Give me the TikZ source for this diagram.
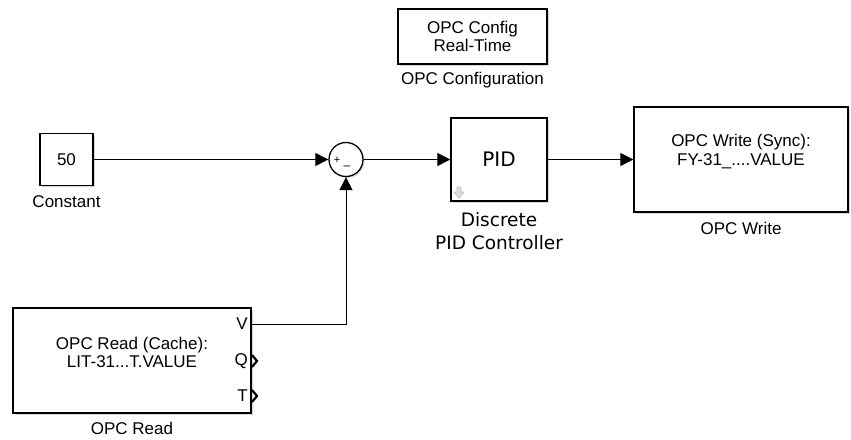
\documentclass[tikz,border=0pt]{standalone}
\usepackage{fontspec}
\setmainfont{Liberation Sans}
\newfontfamily\pidfont{DejaVu Sans}
\usetikzlibrary{arrows.meta,shadows}

\begin{document}
\begin{tikzpicture}[x=1pt,y=-1pt,
    blk/.style={draw,line width=1.3pt,fill=white,inner sep=0pt,
      drop shadow={shadow xshift=1.5pt,shadow yshift=-1.5pt,fill=black!30}},
    txt/.style={font=\fontsize{17}{18.5}\selectfont,align=center,inner sep=0pt},
    pidtxt/.style={font=\pidfont\fontsize{18.5}{23}\selectfont,align=center,inner sep=0pt},
    sig/.style={line width=1pt,-{Triangle[length=13pt,width=13pt]}},
    chev/.style={line width=2.2pt,line join=miter}]
  \useasboundingbox (0,0) rectangle (851,439);
  % blocks
  \node[blk,minimum width=53pt,minimum height=52pt] (const) at (66.5,159.5) {};
  \node[blk,minimum width=149pt,minimum height=55pt] (cfg) at (472.5,36.5) {};
  \node[blk,circle,minimum size=34pt] (sum) at (346,159.5) {};
  \node[blk,minimum width=96pt,minimum height=83pt] (pid) at (499,159.5) {};
  \node[blk,minimum width=214pt,minimum height=105pt] (wr) at (741,159.5) {};
  \node[blk,minimum width=238pt,minimum height=105pt] (rd) at (132,360.5) {};
  % block texts
  \node[txt] (constval) at (const.center) {50};
  \node[txt] (cfgtxt) at (cfg.center) {OPC Config\\Real-Time};
  \node[font=\fontsize{11}{11}\selectfont,inner sep=0pt] (plus) at (337,160) {+};
  \node[font=\fontsize{12}{12}\selectfont,inner sep=0pt] (minus) at (347,168) {--};
  \node[pidtxt,font=\pidfont\fontsize{20}{20}\selectfont] (pidname) at (pid.center) {PID};
  \node[txt] (wrtxt) at ([yshift=8pt]wr.center) {OPC Write (Sync):\\FY-31\_....VALUE};
  \node[txt] (rdtxt) at ([yshift=8pt]rd.center) {OPC Read (Cache):\\LIT-31...T.VALUE};
  \draw[gray!50,fill=gray!25,line width=0.8pt] (457,187) -- (461,187) -- (461,192) -- (464,192)
    -- (459,198) -- (454,192) -- (457,192) -- cycle;
  % ports
  \node[txt,anchor=east] (portV) at (248,324) {V};
  \node[txt,anchor=east] (portQ) at (248,361) {Q};
  \node[txt,anchor=east] (portT) at (248,396) {T};
  \draw[chev] (252,355) -- (257,361) -- (252,367);
  \draw[chev] (252,390) -- (257,396) -- (252,402);
  \coordinate (rdV) at (251,324);
  % labels
  \node[txt] (constlbl) at (66.5,202) {Constant};
  \node[txt] (cfglbl) at (472.5,80) {OPC Configuration};
  \node[pidtxt] (pidlbl) at (499,231) {Discrete\\PID Controller};
  \node[txt] (wrlbl) at (741,228) {OPC Write};
  \node[txt] (rdlbl) at (132,428) {OPC Read};
  % signals
  \draw[sig] (const.east) -- (sum.west);
  \draw[sig] (sum.east) -- (pid.west);
  \draw[sig] (pid.east) -- (wr.west);
  \draw[sig] (rdV) -| (sum.south);
\end{tikzpicture}
\end{document}
